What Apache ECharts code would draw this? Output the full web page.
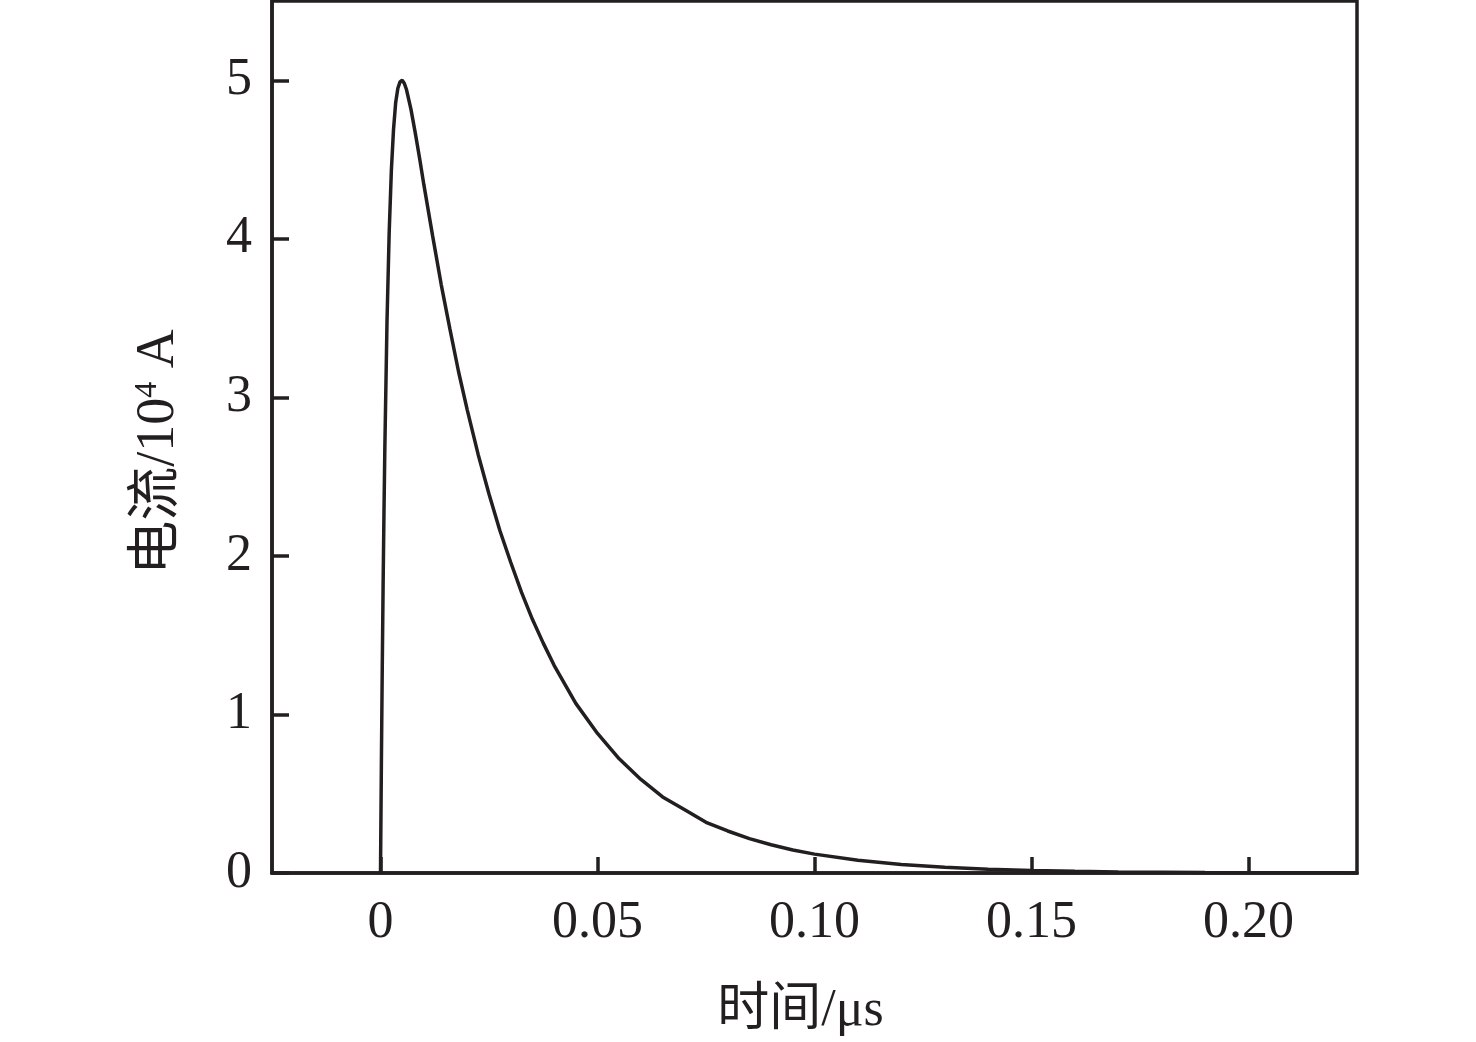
<!DOCTYPE html>
<html>
<head>
<meta charset="utf-8">
<script src="https://cdn.jsdelivr.net/npm/echarts@6/dist/echarts.min.js"></script>
<style>html,body{margin:0;padding:0;background:#fff;}#c{width:1476px;height:1042px;}</style>
</head>
<body>
<div id="c"></div>
<script>
// time in μs
var times = [0, 0.0002, 0.0004, 0.0006, 0.0008, 0.001, 0.0015, 0.002, 0.0025, 0.003, 0.0035, 0.004, 0.0045, 0.005, 0.0055, 0.006, 0.007, 0.008, 0.009, 0.010, 0.012, 0.014, 0.016, 0.018, 0.020, 0.0225, 0.025, 0.0275, 0.030, 0.0325, 0.035, 0.0375, 0.040, 0.045, 0.050, 0.055, 0.060, 0.065, 0.070, 0.075, 0.080, 0.085, 0.090, 0.095, 0.100, 0.110, 0.120, 0.130, 0.140, 0.150, 0.160, 0.170, 0.180, 0.190, 0.200, 0.210, 0.220, 0.225];
// current in 10^4 A
var currents = [0, 0.68, 1.28, 1.81, 2.27, 2.68, 3.48, 4.04, 4.43, 4.69, 4.86, 4.95, 4.99, 5.00, 4.98, 4.94, 4.82, 4.67, 4.51, 4.34, 4.02, 3.71, 3.43, 3.16, 2.92, 2.64, 2.39, 2.16, 1.96, 1.77, 1.60, 1.45, 1.31, 1.07, 0.88, 0.72, 0.59, 0.48, 0.40, 0.32, 0.265, 0.217, 0.178, 0.145, 0.119, 0.080, 0.053, 0.036, 0.024, 0.016, 0.011, 0.007, 0.005, 0.003, 0.002, 0.001, 0.001, 0.0005];
var xTicks = [0, 0.05, 0.10, 0.15, 0.20];
var xTickLabels = ['0', '0.05', '0.10', '0.15', '0.20'];
var yTicks = [0, 1, 2, 3, 4, 5];
var yTickLabels = ['0', '1', '2', '3', '4', '5'];
var xName = '时间/μs';
var yNameMain = '电流/10';
var yNameSup = '4';
var yNameUnit = ' A';

var data = times.map(function (t, i) { return [t, currents[i]]; });
var ink = '#231f20';
var font = "'Liberation Serif', 'Times New Roman', 'Noto Sans CJK SC', serif";

var chart = echarts.init(document.getElementById('c'), null, {renderer: 'canvas'});
chart.setOption({
  backgroundColor: '#fff',
  animation: false,
  grid: {left: 272, right: 119, top: 1, bottom: 166, show: true, borderColor: ink, borderWidth: 3.5, backgroundColor: 'transparent'},
  xAxis: {
    type: 'value', min: -0.025, max: 0.225,
    splitLine: {show: false},
    axisLine: {show: true, onZero: false, lineStyle: {color: ink, width: 3.5}},
    axisTick: {show: true, inside: true, length: 16, lineStyle: {color: ink, width: 3.5}, customValues: xTicks},
    axisLabel: {
      customValues: xTicks, color: ink, fontFamily: font, fontSize: 52, margin: 24,
      formatter: function (v) { var i = xTicks.findIndex(function (x) { return Math.abs(x - v) < 1e-9; }); return i >= 0 ? xTickLabels[i] : ''; }
    },
    name: xName, nameLocation: 'middle', nameGap: 112,
    nameTextStyle: {color: ink, fontFamily: font, fontSize: 52, padding: [0, 28, 0, 0]}
  },
  yAxis: {
    type: 'value', min: 0, max: 5.5,
    splitLine: {show: false},
    axisLine: {show: true, onZero: false, lineStyle: {color: ink, width: 3.5}},
    axisTick: {show: true, inside: true, length: 17, lineStyle: {color: ink, width: 3.5}, customValues: yTicks},
    axisLabel: {
      customValues: yTicks, color: ink, fontFamily: font, fontSize: 52, margin: 20,
      formatter: function (v) { var i = yTicks.indexOf(v); return i >= 0 ? yTickLabels[i] : ''; }
    },
    name: '{a|' + yNameMain + '}{s|' + yNameSup + '}{a|' + yNameUnit + '}',
    nameLocation: 'middle', nameGap: 86, nameRotate: 90,
    nameTextStyle: {
      color: ink, fontFamily: font, fontSize: 54, padding: [0, 30, 0, 0],
      rich: {
        a: {fontFamily: font, fontSize: 54, color: ink},
        s: {fontFamily: font, fontSize: 32, color: ink, verticalAlign: 'top', lineHeight: 54, padding: [0, 0, 20, 0]}
      }
    }
  },
  series: [{
    type: 'line', data: data, showSymbol: false, smooth: false,
    lineStyle: {color: ink, width: 3.5}, clip: true
  }]
});
</script>
</body>
</html>
